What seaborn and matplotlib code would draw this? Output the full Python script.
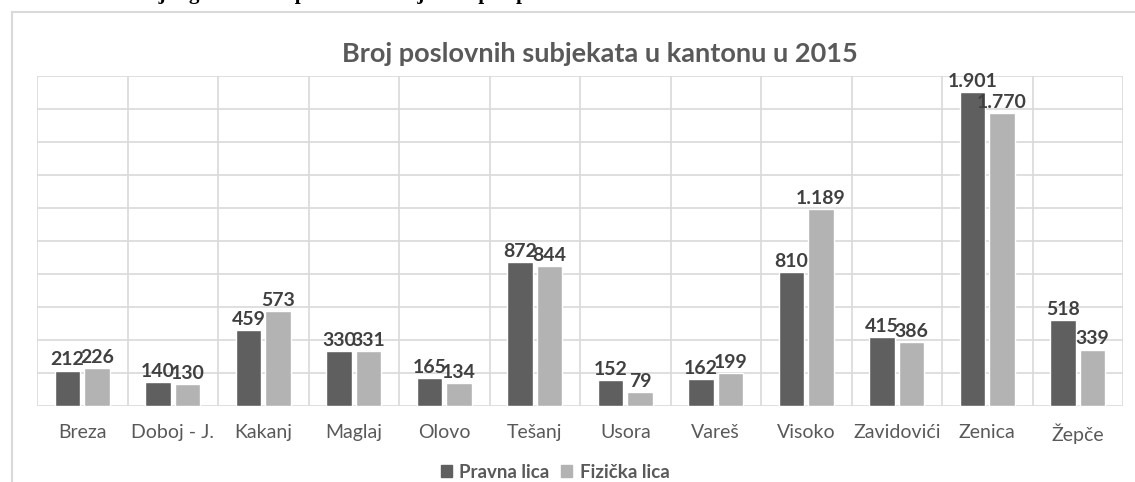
import pandas as pd
import matplotlib.pyplot as plt
import seaborn as sns
from matplotlib.patches import Rectangle, Patch

# data
opcine = ["Breza", "Doboj - J.", "Kakanj", "Maglaj", "Olovo", "Tešanj",
          "Usora", "Vareš", "Visoko", "Zavidovići", "Zenica", "Žepče"]
pravna_lica = [212, 140, 459, 330, 165, 872, 152, 162, 810, 415, 1901, 518]
fizicka_lica = [226, 130, 573, 331, 134, 844, 79, 199, 1189, 386, 1770, 339]
serije = ["Pravna lica", "Fizička lica"]

df = pd.DataFrame({
    "opcina": opcine * 2,
    "tip": [serije[0]] * len(opcine) + [serije[1]] * len(opcine),
    "broj": pravna_lica + fizicka_lica,
})

sns.set_style("white")
plt.rcParams["font.family"] = ["Lato", "DejaVu Sans"]

boje = ["#5f5f5f", "#b3b3b3"]
fig = plt.figure(figsize=(11.35, 4.82), dpi=100)
ax = fig.add_axes([37 / 1135, 1 - 405.5 / 482, 1086 / 1135, 330 / 482])

sns.barplot(data=df, x="opcina", y="broj", hue="tip", palette=boje,
            width=0.652, gap=0.125, legend=False, ax=ax, saturation=1)

for cont in ax.containers:
    ax.bar_label(cont, labels=[f"{int(v):,}".replace(",", ".") for v in cont.datavalues],
                 padding=1.5, fontsize=14, fontweight="bold", color="#404040")

ax.set_ylim(0, 2000)
ax.set_xlim(-0.5, len(opcine) - 0.5)
ax.set_yticks(range(0, 2001, 200))
ax.set_yticklabels([])
ax.set_xticks(range(len(opcine)), minor=False)
ax.set_xticks([i - 0.5 for i in range(len(opcine) + 1)], minor=True)
ax.grid(True, which="major", axis="y", color="#d9d9d9", lw=1.2)
ax.grid(True, which="minor", axis="x", color="#d9d9d9", lw=1.2)
ax.set_axisbelow(True)
ax.tick_params(axis="both", which="both", length=0)
ax.tick_params(axis="x", pad=13, labelsize=14, labelcolor="#595959")
ax.set_xlabel("")
ax.set_ylabel("")
for s in ax.spines.values():
    s.set_visible(False)

fig.text(600 / 1135, 1 - 62 / 482, "Broj poslovnih subjekata u kantonu u 2015",
         ha="center", va="baseline", fontsize=19.5, fontweight="bold", color="#595959")

handles = [Patch(color=boje[0], label=serije[0]), Patch(color=boje[1], label=serije[1])]
leg = fig.legend(handles=handles, loc="center", bbox_to_anchor=(555 / 1135, 1 - 472 / 482),
                 ncol=2, frameon=False, handlelength=0.6, handleheight=0.6,
                 handletextpad=0.4, columnspacing=0.6,
                 prop={"size": 13.5, "weight": "bold"})
for t in leg.get_texts():
    t.set_color("#595959")

# chart frame, cut off on the right and bottom like in the source document
fig.patches.append(Rectangle((12 / 1135, -0.2), 1.2, 1.2 - 12 / 482,
                             transform=fig.transFigure, fill=False,
                             edgecolor="#d9d9d9", lw=1.5))

# caption line above the chart, mostly cut off at the top edge
fig.text(17 / 1135, 1 + 1.5 / 482, "Grafikon 3. Broj registrovanih poslovnih subjekata po općinama ZDK 2015.",
         ha="left", va="baseline", fontsize=15, fontweight="bold",
         family="Liberation Serif", color="black")

fig.savefig("out.png", dpi=100)
